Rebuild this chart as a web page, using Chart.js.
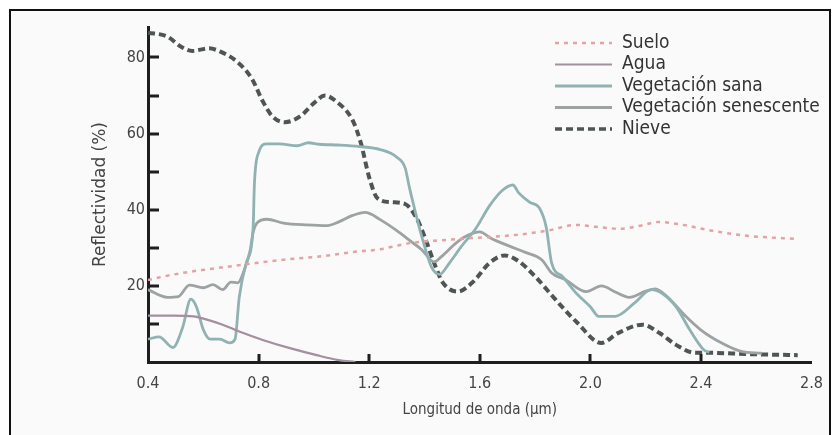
<!DOCTYPE html>
<html>
<head>
<meta charset="utf-8">
<script src="https://cdn.jsdelivr.net/npm/chart.js@4/dist/chart.umd.min.js"></script>
<style>
  html, body { margin: 0; padding: 0; background: #ffffff; }
  #wrap { position: relative; width: 835px; height: 435px; overflow: hidden; }
  #bg { position: absolute; left: 9px; top: 9px; width: 822px; height: 440px; background: #fafafa; }
  #frame { position: absolute; left: 9px; top: 9px; width: 818px; height: 440px;
           border-top: 2px solid #111; border-left: 2px solid #111; border-right: 2px solid #111; pointer-events: none; }
  canvas { position: absolute; left: 0; top: 0; }
</style>
</head>
<body>
<div id="wrap">
  <div id="bg"></div>
  <canvas id="c" width="835" height="435"></canvas>
  <div id="frame"></div>
</div>
<script>
// ---- Data ----
const seriesNames = ['Suelo', 'Agua', 'Vegetación sana', 'Vegetación senescente', 'Nieve'];

const sueloX = [0.40, 0.44, 0.525, 0.61, 0.705, 0.79, 0.91, 1.03, 1.155, 1.24, 1.285, 1.355, 1.465, 1.585, 1.705, 1.80, 1.85, 1.95, 2.02, 2.11, 2.175, 2.25, 2.32, 2.44, 2.56, 2.75];
const sueloY = [21.5, 22.2, 23.4, 24.3, 25.2, 26.0, 27.0, 27.8, 29.0, 29.6, 30.3, 31.3, 32.0, 32.6, 33.2, 34.0, 34.6, 36.0, 35.5, 35.0, 35.7, 36.8, 36.2, 34.5, 33.2, 32.3];

const aguaX = [0.40, 0.49, 0.565, 0.61, 0.67, 0.73, 0.815, 0.91, 1.01, 1.09, 1.15];
const aguaY = [12.2, 12.2, 12.0, 11.2, 9.8, 8.0, 5.8, 3.7, 1.8, 0.5, 0.0];

const sanaX = [0.40, 0.44, 0.49, 0.525, 0.555, 0.575, 0.60, 0.625, 0.66, 0.695, 0.715, 0.73, 0.755, 0.78, 0.785, 0.80, 0.83, 0.875, 0.94, 0.98, 1.02, 1.09, 1.165, 1.24, 1.30, 1.33, 1.345, 1.365, 1.39, 1.425, 1.455, 1.49, 1.535, 1.585, 1.635, 1.68, 1.72, 1.74, 1.78, 1.815, 1.84, 1.86, 1.90, 1.95, 2.00, 2.03, 2.09, 2.16, 2.22, 2.26, 2.31, 2.36, 2.41, 2.43];
const sanaY = [6.0, 6.6, 3.8, 9.0, 16.5, 14.5, 8.5, 6.0, 6.0, 5.0, 6.0, 17.0, 26.0, 35.0, 47.0, 55.0, 57.3, 57.3, 56.8, 57.6, 57.2, 57.0, 56.6, 55.8, 53.8, 51.0, 46.0, 40.0, 33.0, 25.0, 23.0, 26.0, 30.5, 35.0, 41.0, 45.0, 46.5, 44.5, 42.0, 40.5, 35.5, 26.0, 22.4, 18.0, 14.5, 12.0, 12.0, 15.5, 19.0, 18.0, 14.5, 8.4, 3.2, 2.5];

const senesX = [0.40, 0.47, 0.51, 0.55, 0.60, 0.635, 0.67, 0.70, 0.725, 0.745, 0.77, 0.78, 0.795, 0.83, 0.89, 0.975, 1.045, 1.09, 1.14, 1.185, 1.24, 1.30, 1.345, 1.39, 1.435, 1.46, 1.515, 1.56, 1.60, 1.64, 1.705, 1.765, 1.825, 1.86, 1.91, 1.985, 2.04, 2.09, 2.14, 2.20, 2.235, 2.28, 2.345, 2.40, 2.475, 2.545, 2.62];
const senesY = [19.0, 17.0, 17.2, 20.2, 19.5, 20.3, 19.0, 21.0, 20.8, 23.5, 29.5, 34.0, 36.6, 37.5, 36.5, 36.0, 35.8, 36.8, 38.5, 39.3, 37.4, 34.5, 32.0, 29.5, 26.3, 27.6, 31.3, 33.4, 34.2, 32.5, 30.5, 28.8, 26.8, 23.4, 21.6, 18.5, 20.0, 18.4, 17.0, 18.6, 19.2, 17.0, 12.0, 8.4, 5.0, 2.8, 2.3];

const nieveX = [0.40, 0.47, 0.52, 0.56, 0.62, 0.66, 0.72, 0.775, 0.815, 0.85, 0.895, 0.95, 1.00, 1.04, 1.08, 1.14, 1.17, 1.20, 1.23, 1.28, 1.33, 1.37, 1.40, 1.435, 1.465, 1.52, 1.575, 1.635, 1.69, 1.74, 1.80, 1.875, 1.95, 2.04, 2.10, 2.19, 2.25, 2.31, 2.38, 2.44, 2.56, 2.75];
const nieveY = [86.5, 85.5, 82.8, 81.7, 82.4, 81.6, 79.0, 74.5, 68.5, 64.5, 63.0, 64.5, 68.0, 70.0, 68.5, 63.5, 57.5, 48.5, 43.0, 42.0, 41.5, 38.0, 33.0, 26.0, 21.0, 18.5, 21.0, 26.0, 28.0, 26.5, 22.5, 16.3, 10.5, 5.0, 7.6, 9.8, 7.6, 4.5, 2.4, 2.4, 2.1, 1.8];

const xTickValues = [0.4, 0.8, 1.2, 1.6, 2.0, 2.4, 2.8];
const xInnerTicks = [0.8, 1.2, 1.6, 2.0, 2.4];
const yInnerTicks = [10, 20, 30, 40, 50, 60, 70, 80];
const yLabelValues = [20, 40, 60, 80];

const toPts = (xs, ys) => xs.map((x, i) => ({ x: x, y: ys[i] }));

const styles = [
  { color: '#e3a3a3', width: 2.5, dash: [4, 5] },
  { color: '#a38f9f', width: 2.2, dash: [] },
  { color: '#90b2b2', width: 2.8, dash: [] },
  { color: '#9da2a2', width: 2.8, dash: [] },
  { color: '#4f5454', width: 4, dash: [7, 4] }
];
const seriesData = [toPts(sueloX, sueloY), toPts(aguaX, aguaY), toPts(sanaX, sanaY), toPts(senesX, senesY), toPts(nieveX, nieveY)];

const datasets = seriesNames.map((name, i) => ({
  label: name,
  data: seriesData[i],
  borderColor: styles[i].color,
  borderWidth: styles[i].width,
  borderDash: styles[i].dash,
  pointRadius: 0,
  fill: false,
  cubicInterpolationMode: 'monotone'
}));

const condensed = "'DejaVu Sans Condensed', 'DejaVu Sans', sans-serif";

const innerTicks = {
  id: 'innerTicks',
  afterDraw(chart) {
    const { ctx, scales: { x, y }, chartArea } = chart;
    ctx.save();
    ctx.strokeStyle = '#1e1e1e';
    ctx.lineWidth = 3;
    yInnerTicks.forEach(v => {
      const py = Math.round(y.getPixelForValue(v));
      ctx.beginPath();
      ctx.moveTo(chartArea.left, py);
      ctx.lineTo(chartArea.left + 11, py);
      ctx.stroke();
    });
    xInnerTicks.forEach(v => {
      const px = Math.round(x.getPixelForValue(v));
      ctx.beginPath();
      ctx.moveTo(px, chartArea.bottom);
      ctx.lineTo(px, chartArea.bottom - 8);
      ctx.stroke();
    });
    ctx.restore();
  }
};

const customLegend = {
  id: 'customLegend',
  afterDraw(chart) {
    const ctx = chart.ctx;
    const x0 = 555, x1 = 612, tx = 622, yStart = 43, dy = 21.5;
    ctx.save();
    chart.data.datasets.forEach((ds, i) => {
      const yy = yStart + i * dy;
      ctx.beginPath();
      ctx.strokeStyle = ds.borderColor;
      ctx.lineWidth = Math.min(ds.borderWidth, 3.5);
      ctx.setLineDash(ds.borderDash || []);
      ctx.moveTo(x0, yy);
      ctx.lineTo(x1, yy);
      ctx.stroke();
      ctx.setLineDash([]);
      ctx.fillStyle = '#333';
      ctx.font = "19px " + condensed;
      ctx.textBaseline = 'middle';
      ctx.textAlign = 'left';
      ctx.fillText(ds.label, tx, yy);
    });
    ctx.restore();
  }
};

new Chart(document.getElementById('c'), {
  type: 'line',
  data: { datasets: datasets },
  plugins: [innerTicks, customLegend],
  options: {
    responsive: false,
    animation: false,
    layout: { padding: { left: 0, right: 20, top: 27, bottom: 0 } },
    plugins: { legend: { display: false }, tooltip: { enabled: false } },
    scales: {
      x: {
        type: 'linear',
        min: 0.4,
        max: 2.8,
        afterFit: s => { s.height = 73; },
        afterBuildTicks: s => { s.ticks = xTickValues.map(v => ({ value: v })); },
        grid: { display: false, drawTicks: false },
        border: { display: true, color: '#1e1e1e', width: 3 },
        ticks: {
          padding: 12,
          color: '#444',
          font: { family: condensed, size: 16 },
          autoSkip: false,
          maxRotation: 0,
          callback: v => Number(v).toFixed(1)
        },
        title: {
          display: true,
          text: 'Longitud de onda (µm)',
          color: '#444',
          font: { family: condensed, size: 15 },
          padding: { top: 0, bottom: 16 }
        }
      },
      y: {
        type: 'linear',
        min: 0,
        max: 88,
        afterFit: s => { s.width = 148; },
        afterBuildTicks: s => { s.ticks = yLabelValues.map(v => ({ value: v })); },
        grid: { display: false, drawTicks: false },
        border: { display: true, color: '#1e1e1e', width: 3 },
        ticks: {
          padding: 3,
          color: '#444',
          font: { family: condensed, size: 16 },
          callback: v => String(v)
        },
        title: {
          display: true,
          text: 'Reflectividad (%)',
          color: '#444',
          font: { family: "'DejaVu Sans', sans-serif", size: 17 },
          padding: { top: 90, bottom: 0 }
        }
      }
    }
  }
});
</script>
</body>
</html>
